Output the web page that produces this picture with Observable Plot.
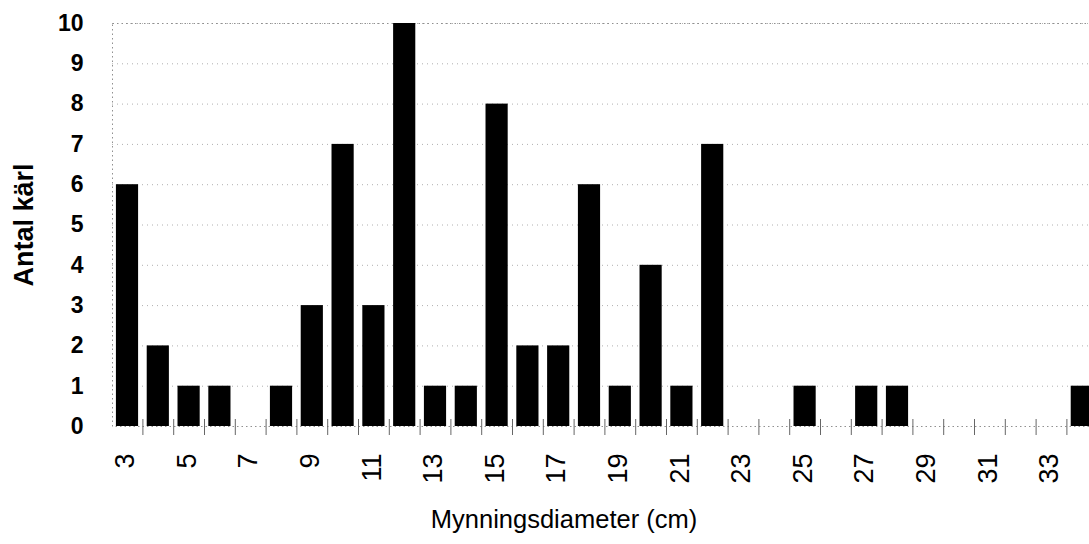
<!DOCTYPE html>
<html><head><meta charset="utf-8">
<script src="https://cdn.jsdelivr.net/npm/d3@7"></script>
<script src="https://cdn.jsdelivr.net/npm/@observablehq/plot@0.6"></script>
<style>
body{margin:0;background:#fff;font-family:"Liberation Sans",Arial,sans-serif;width:1089px;overflow:hidden}
#xt{font-size:25.5px;color:#000;padding-left:39px;text-align:center;line-height:28px;margin-top:5px}
</style>
</head><body>
<div id="chart"></div>
<div id="xt">Mynningsdiameter (cm)</div>
<script>
const diameters = [3,4,5,6,7,8,9,10,11,12,13,14,15,16,17,18,19,20,21,22,23,24,25,26,27,28,29,30,31,32,33,34];
const counts    = [6,2,1,1,0,1,3,7,3,10,1,1,8,2,2,6,1,4,1,7,0,0,1,0,1,1,0,0,0,0,0,1];
const xTickLabels = [3,5,7,9,11,13,15,17,19,21,23,25,27,29,31,33];
const yTickLabels = [0,1,2,3,4,5,6,7,8,9,10];
const yTitle = "Antal kärl";

const data = diameters.map((d, i) => ({diameter: d, count: counts[i]}));
const xStart = 111.6, xEnd = 1097.2;
const step = (xEnd - xStart) / diameters.length;

const chart = Plot.plot({
  width: 1089,
  height: 500,
  marginTop: 23,
  marginBottom: 74,
  marginLeft: 112,
  marginRight: 0,
  style: {fontFamily: '"Liberation Sans", Arial, sans-serif', color: "#000", background: "#fff", overflow: "hidden"},
  x: {type: "band", domain: diameters, range: [xStart, xEnd], paddingInner: 0.28, paddingOuter: 0.14, round: false},
  y: {domain: [0, 10]},
  marks: [
    Plot.ruleY(yTickLabels.slice(1), {y: d => d, stroke: "#b0b0b0", strokeWidth: 1, strokeDasharray: "1,4"}),
    Plot.frame({stroke: "#909090", strokeDasharray: "1.5,3", insetRight: -5}),
    Plot.ruleX(diameters, {x: d => d, dx: step / 2, y1: 0, y2: 0, insetTop: -7, insetBottom: -9, stroke: "#666", strokeWidth: 1}),
    Plot.barY(data, {x: "diameter", y: "count", fill: "#000"}),
    Plot.axisY(yTickLabels, {tickSize: 0, tickPadding: 29, fontSize: 23, fontWeight: "bold", label: null}),
    Plot.axisY({ticks: [], tickSize: 0, label: yTitle, labelAnchor: "center", labelArrow: "none", labelOffset: 99, dy: 5, fontSize: 27, fontWeight: "bold"}),
    Plot.axisX(xTickLabels, {tickSize: 0, tickRotate: -90, tickPadding: 27, dx: -2, fontSize: 27, label: null})
  ]
});
document.getElementById("chart").appendChild(chart);
</script>
</body></html>
